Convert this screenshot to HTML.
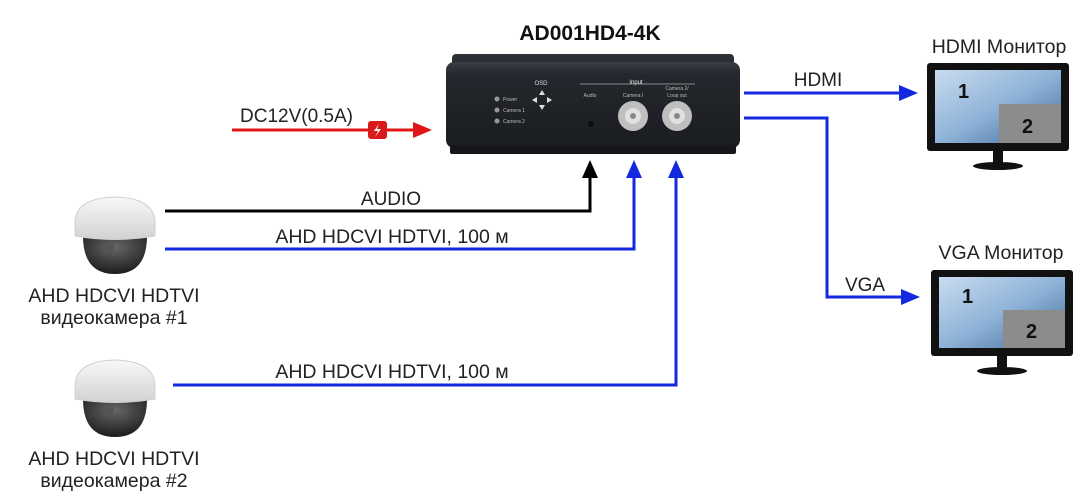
<!DOCTYPE html>
<html><head><meta charset="utf-8"><style>
html,body{margin:0;padding:0;background:#fff;}
svg{display:block;font-family:"Liberation Sans",Arial,sans-serif;}
</style></head><body>
<svg width="1084" height="502" viewBox="0 0 1084 502" xmlns="http://www.w3.org/2000/svg">
<defs>
<linearGradient id="scr" x1="0" y1="0" x2="1" y2="1">
<stop offset="0" stop-color="#c9dcef"/><stop offset="0.5" stop-color="#8fb3d8"/><stop offset="1" stop-color="#3f6a9a"/></linearGradient>
<linearGradient id="dev" x1="0" y1="0" x2="0" y2="1">
<stop offset="0" stop-color="#3a3d44"/><stop offset="0.15" stop-color="#24272d"/><stop offset="1" stop-color="#1a1c20"/></linearGradient>
<radialGradient id="lens" cx="0.5" cy="0.3" r="0.7"><stop offset="0" stop-color="#666"/><stop offset="1" stop-color="#1c1c1c"/></radialGradient>
<linearGradient id="dome" x1="0" y1="0" x2="0" y2="1"><stop offset="0" stop-color="#f8f8f8"/><stop offset="1" stop-color="#d2d2d2"/></linearGradient>
</defs>

<text x="590" y="40" font-size="21" font-weight="bold" text-anchor="middle" fill="#111">AD001HD4-4K</text>

<rect x="452" y="54" width="282" height="12" rx="4" fill="#2c2f35"/>
<rect x="446" y="62" width="294" height="86" rx="8" fill="url(#dev)"/>
<rect x="450" y="146" width="286" height="8" rx="2" fill="#15171a"/>
<text x="541" y="85" font-size="6" fill="#ddd" text-anchor="middle">OSD</text>
<circle cx="497" cy="99" r="2.5" fill="#999"/><text x="503" y="101" font-size="5" fill="#bbb">Power</text>
<circle cx="497" cy="110" r="2.5" fill="#999"/><text x="503" y="112" font-size="5" fill="#bbb">Camera 1</text>
<circle cx="497" cy="121" r="2.5" fill="#999"/><text x="503" y="123" font-size="5" fill="#bbb">Camera 2</text>
<polygon points="542,90 539,95 545,95" fill="#ddd"/><polygon points="542,110 539,105 545,105" fill="#ddd"/>
<polygon points="532,100 537,97 537,103" fill="#ddd"/><polygon points="552,100 547,97 547,103" fill="#ddd"/>
<line x1="580" y1="84" x2="695" y2="84" stroke="#aaa" stroke-width="0.8"/>
<text x="636" y="84" font-size="6" fill="#eee" text-anchor="middle">Input</text>
<text x="590" y="97" font-size="5" fill="#bbb" text-anchor="middle">Audio</text>
<circle cx="591" cy="124" r="3" fill="#0d0d0d"/>
<text x="633" y="97" font-size="5" fill="#bbb" text-anchor="middle">Camera I</text>
<text x="677" y="90" font-size="5" fill="#bbb" text-anchor="middle">Camera 2/</text>
<text x="677" y="97" font-size="5" fill="#bbb" text-anchor="middle">Loop out</text>
<circle cx="633" cy="116" r="15" fill="#bfbfbf"/><circle cx="633" cy="116" r="8" fill="#e0e0e0"/><circle cx="633" cy="116" r="3" fill="#888"/>
<circle cx="677" cy="116" r="15" fill="#bfbfbf"/><circle cx="677" cy="116" r="8" fill="#e0e0e0"/><circle cx="677" cy="116" r="3" fill="#888"/>

<text x="240" y="122" font-size="19" fill="#222">DC12V(0.5A)</text>
<line x1="232" y1="130" x2="416" y2="130" stroke="#e01515" stroke-width="3"/>
<polygon points="432,130 413,122 413,138" fill="#e01515"/>
<rect x="368" y="121" width="19" height="18" rx="3" fill="#d91a1a"/>
<path d="M379 124 L374 131 L378 131 L375 137 L381 129 L377 129 Z" fill="#fff"/>

<polyline points="165,211 590,211 590,176" fill="none" stroke="#000" stroke-width="3"/>
<polygon points="590,160 582,178 598,178" fill="#000"/>
<text x="391" y="205" font-size="19" fill="#222" text-anchor="middle">AUDIO</text>
<polyline points="165,249 634,249 634,176" fill="none" stroke="#1428e0" stroke-width="3"/>
<polygon points="634,160 626,178 642,178" fill="#1428e0"/>
<text x="392" y="243" font-size="19.5" fill="#222" text-anchor="middle">AHD HDCVI HDTVI, 100 м</text>
<polyline points="173,385 676,385 676,176" fill="none" stroke="#1428e0" stroke-width="3"/>
<polygon points="676,160 668,178 684,178" fill="#1428e0"/>
<text x="392" y="378" font-size="19.5" fill="#222" text-anchor="middle">AHD HDCVI HDTVI, 100 м</text>

<line x1="744" y1="93" x2="902" y2="93" stroke="#1428e0" stroke-width="3"/>
<polygon points="918,93 899,85 899,101" fill="#1428e0"/>
<text x="818" y="86" font-size="19" fill="#222" text-anchor="middle">HDMI</text>
<polyline points="744,118 827,118 827,297 904,297" fill="none" stroke="#1428e0" stroke-width="3"/>
<polygon points="920,297 901,289 901,305" fill="#1428e0"/>
<text x="865" y="291" font-size="19" fill="#222" text-anchor="middle">VGA</text>

<text x="999" y="53" font-size="19.5" fill="#222" text-anchor="middle">HDMI Монитор</text>
<rect x="927" y="63" width="142" height="88" rx="3" fill="#111"/>
<rect x="935" y="70" width="126" height="73" fill="url(#scr)"/>
<rect x="999" y="104" width="62" height="39" fill="#8c8c8c"/>
<text x="958" y="98" font-size="20" font-weight="bold" fill="#111">1</text>
<text x="1022" y="133" font-size="20" font-weight="bold" fill="#111">2</text>
<rect x="993" y="151" width="10" height="13" fill="#111"/>
<ellipse cx="998" cy="166" rx="25" ry="4" fill="#111"/>

<text x="1001" y="259" font-size="19.5" fill="#222" text-anchor="middle">VGA Монитор</text>
<rect x="931" y="270" width="142" height="86" rx="3" fill="#111"/>
<rect x="939" y="277" width="126" height="71" fill="url(#scr)"/>
<rect x="1003" y="310" width="62" height="38" fill="#8c8c8c"/>
<text x="962" y="303" font-size="20" font-weight="bold" fill="#111">1</text>
<text x="1026" y="338" font-size="20" font-weight="bold" fill="#111">2</text>
<rect x="997" y="356" width="10" height="13" fill="#111"/>
<ellipse cx="1002" cy="371" rx="25" ry="4" fill="#111"/>

<g id="cam">
<path d="M83 236 Q83 274 115 274 Q147 274 147 236 Z" fill="url(#lens)"/>
<path d="M75 236 L75 222 Q76 198 115 197 Q154 198 155 222 L155 236 Q115 243 75 236 Z" fill="url(#dome)" stroke="#d0d0d0"/>
<circle cx="108" cy="248" r="6" fill="#555"/>
</g>
<text x="114" y="302" font-size="19.5" fill="#222" text-anchor="middle">AHD HDCVI HDTVI</text>
<text x="114" y="324" font-size="19.5" fill="#222" text-anchor="middle">видеокамера #1</text>
<g transform="translate(0,163)">
<path d="M83 236 Q83 274 115 274 Q147 274 147 236 Z" fill="url(#lens)"/>
<path d="M75 236 L75 222 Q76 198 115 197 Q154 198 155 222 L155 236 Q115 243 75 236 Z" fill="url(#dome)" stroke="#d0d0d0"/>
<circle cx="108" cy="248" r="6" fill="#555"/>
</g>
<text x="114" y="465" font-size="19.5" fill="#222" text-anchor="middle">AHD HDCVI HDTVI</text>
<text x="114" y="487" font-size="19.5" fill="#222" text-anchor="middle">видеокамера #2</text>
</svg>
</body></html>
